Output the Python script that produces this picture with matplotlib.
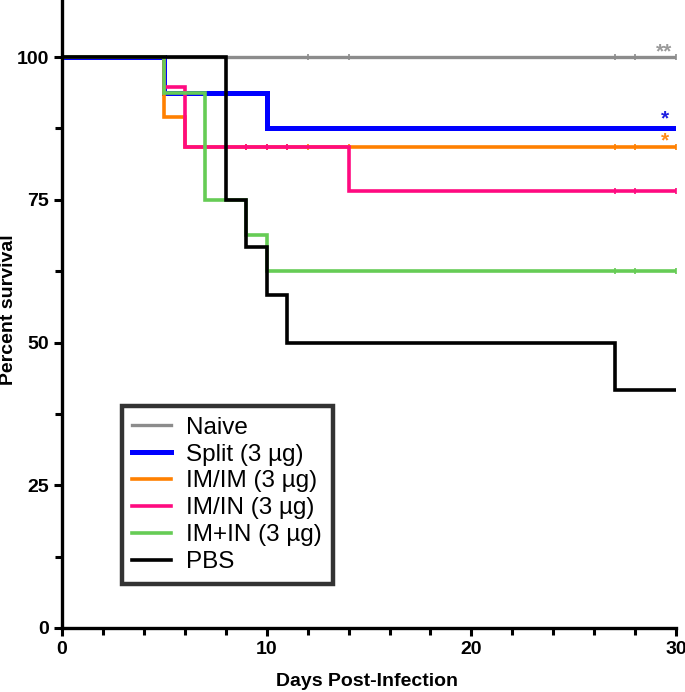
import matplotlib
matplotlib.use("Agg")
import numpy as np
import matplotlib.pyplot as plt

plt.rcParams['font.family'] = ['Liberation Sans', 'DejaVu Sans']

# Kaplan-Meier steps (day, percent survival)
naive_t = [0, 30]
naive_s = [100, 100]
split_t = [0, 5, 10, 30]
split_s = [100, 93.75, 87.5, 87.5]
imim_t = [0, 5, 6, 30]
imim_s = [100, 89.5, 84.2, 84.2]
imin_t = [0, 5, 6, 14, 30]
imin_s = [100, 94.7, 84.2, 76.6, 76.6]
impin_t = [0, 5, 7, 9, 10, 30]
impin_s = [100, 93.75, 75, 68.75, 62.5, 62.5]
pbs_t = [0, 8, 9, 10, 11, 27, 30]
pbs_s = [100, 75, 66.7, 58.3, 50, 41.7, 41.7]

# censor marks
naive_c = [12, 14, 27, 28, 30]
imim_c = [9, 10, 11, 12, 14, 27, 28, 30]
imin_c = [9, 10, 11, 27, 28, 30]
impin_c = [27, 28, 30]

labels = ['Naive', 'Split (3 µg)', 'IM/IM (3 µg)', 'IM/IN (3 µg)', 'IM+IN (3 µg)', 'PBS']
colors = ['#8c8c8c', '#0000ff', '#ff8000', '#ff0a80', '#66cc55', '#000000']
widths = [2.4, 3.6, 2.6, 2.6, 2.6, 2.6]

fig = plt.figure(figsize=(6.85, 6.92), dpi=100)
ax = fig.add_axes([0.0905, 0.0925, 0.8965, 0.9075])

series = [(naive_t, naive_s, naive_c), (split_t, split_s, []),
          (imim_t, imim_s, imim_c), (imin_t, imin_s, imin_c),
          (impin_t, impin_s, impin_c), (pbs_t, pbs_s, [])]
for (t, s, c), lab, col, lw in zip(series, labels, colors, widths):
    ax.step(t, s, where='post', color=col, lw=lw, label=lab, solid_joinstyle='miter')
    if c:
        cs = [s[np.searchsorted(t, d, side='right') - 1] for d in c]
        ax.plot(c, cs, ls='none', marker='|', ms=5, mew=1.2, color=col)

# significance asterisks
ax.text(29.4, 99.9, '**', color='#9a9a9a', fontsize=15, fontweight='bold', ha='center', va='baseline')
ax.text(29.45, 88.2, '*', color='#2020e0', fontsize=15, fontweight='bold', ha='center', va='baseline')
ax.text(29.45, 84.4, '*', color='#ff8c1a', fontsize=15, fontweight='bold', ha='center', va='baseline')

ax.set_xlim(0, 30)
ax.set_ylim(0, 110)
ax.set_xticks([0, 10, 20, 30])
ax.set_xticks(np.arange(0, 31, 2), minor=True)
ax.set_yticks([0, 25, 50, 75, 100])
ax.set_yticks(np.arange(0, 101, 12.5), minor=True)
for sp in ['top', 'right']:
    ax.spines[sp].set_visible(False)
for sp in ['left', 'bottom']:
    ax.spines[sp].set_linewidth(2.4)
ax.tick_params(which='both', width=2.2, direction='out')
ax.tick_params(which='major', length=6, labelsize=14)
ax.tick_params(which='minor', length=5)
for lab in ax.get_xticklabels() + ax.get_yticklabels():
    lab.set_fontweight('bold')

fig.text(367 / 685, 1 - 681 / 692, 'Days Post-Infection', fontsize=14, fontweight='bold',
         ha='center', va='center')
fig.text(9 / 685, 1 - 310 / 692, 'Percent survival', fontsize=14, fontweight='bold',
         ha='center', va='center', rotation=90)

leg = ax.legend(loc='lower left', bbox_to_anchor=(0.097, 0.07), fontsize=17.5,
                frameon=True, fancybox=False, labelspacing=0.2, handlelength=1.6,
                handletextpad=0.6, borderpad=0.45, borderaxespad=0)
leg.get_frame().set_edgecolor('black')
leg.get_frame().set_linewidth(3.2)

fig.savefig('out.png', dpi=100)
